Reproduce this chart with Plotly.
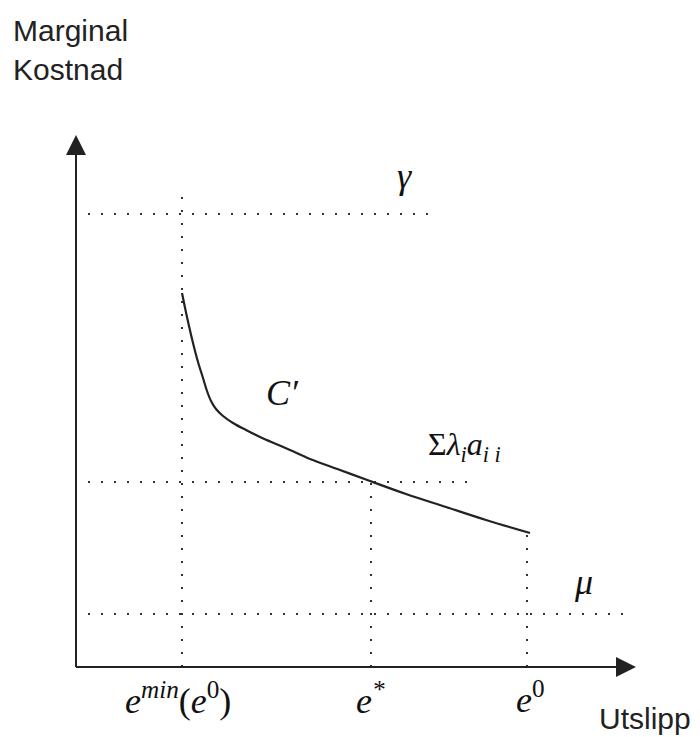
import plotly.graph_objects as go

# marginal cost curve C' (emission units vs cost units, origin at axes corner)
curve_x = [106, 111, 117, 122, 127, 131, 135, 140, 147, 157, 170, 184, 200, 214, 234, 264, 294, 330, 370, 410, 454]
curve_y = [374, 350, 324, 305, 289, 276, 266, 258, 251, 244, 237, 230, 223, 217, 208, 197, 186, 173, 160, 147, 134]

# reference levels and emission points
gamma_level = 453
lambda_level = 185
mu_level = 53
e_min = 106
e_star = 295
e_zero = 451
x_axis_end = 560
y_axis_end = 532

font_math = "Liberation Serif"
font_sans = "Liberation Sans"
ink = "#222222"
dot = dict(color="#333333", width=2, dash="2px,11px")

fig = go.Figure()

# dotted guide lines
fig.add_trace(go.Scatter(x=[12, 354], y=[gamma_level, gamma_level], mode="lines", line=dot))
fig.add_trace(go.Scatter(x=[12, 402], y=[lambda_level, lambda_level], mode="lines", line=dot))
fig.add_trace(go.Scatter(x=[12, 552], y=[mu_level, mu_level], mode="lines", line=dot))
fig.add_trace(go.Scatter(x=[e_min, e_min], y=[0, 477], mode="lines", line=dot))
fig.add_trace(go.Scatter(x=[e_star, e_star], y=[0, lambda_level], mode="lines", line=dot))
fig.add_trace(go.Scatter(x=[e_zero, e_zero], y=[0, curve_y[-1]], mode="lines", line=dot))

# curve
fig.add_trace(go.Scatter(x=curve_x, y=curve_y, mode="lines",
                         line=dict(color=ink, width=2.2, shape="spline", smoothing=1)))

# axes
fig.add_trace(go.Scatter(x=[0, 0], y=[0, y_axis_end - 8], mode="lines", line=dict(color=ink, width=2)))
fig.add_trace(go.Scatter(x=[0, x_axis_end - 8], y=[0, 0], mode="lines", line=dict(color=ink, width=2)))

for tip, tail in [((0, y_axis_end), (0, y_axis_end - 24)), ((x_axis_end, 0), (x_axis_end - 24, 0))]:
    fig.add_annotation(x=tip[0], y=tip[1], ax=tail[0], ay=tail[1], axref="x", ayref="y",
                       text="", showarrow=True, arrowhead=2, arrowsize=2,
                       arrowwidth=2, arrowcolor=ink, standoff=0)

labels = [
    (328, 491, "<i>γ</i>", 36),
    (206, 274, "<i>C′</i>", 36),
    (388, 221, "Σ<i>λ<sub>i</sub>a<sub>i i</sub></i>", 32),
    (507, 85, "<i>μ</i>", 36),
    (102, -31, "<i>e<sup>min</sup></i>(<i>e</i><sup>0</sup>)", 36),
    (294, -31, "<i>e<sup>*</sup></i>", 36),
    (454, -30, "<i>e</i><sup>0</sup>", 36),
]
for x, y, t, s in labels:
    fig.add_annotation(x=x, y=y, text=t, showarrow=False, xanchor="center", yanchor="middle",
                       font=dict(family=font_math, size=s, color="#111111"))

fig.add_annotation(x=-65, y=617, text="Marginal<br>Kostnad", showarrow=False,
                   xanchor="left", yanchor="middle", align="left",
                   font=dict(family=font_sans, size=30, color="#222222"))
fig.add_annotation(x=521, y=-51, text="Utslipp", showarrow=False,
                   xanchor="left", yanchor="middle",
                   font=dict(family=font_sans, size=30, color="#222222"))

fig.update_layout(
    width=700, height=737,
    margin=dict(l=0, r=0, t=0, b=0),
    showlegend=False,
    plot_bgcolor="white", paper_bgcolor="white",
    xaxis=dict(range=[-68, 632], visible=False, fixedrange=True),
    yaxis=dict(range=[-78, 659], visible=False, fixedrange=True),
)

fig.write_html("out.html")
